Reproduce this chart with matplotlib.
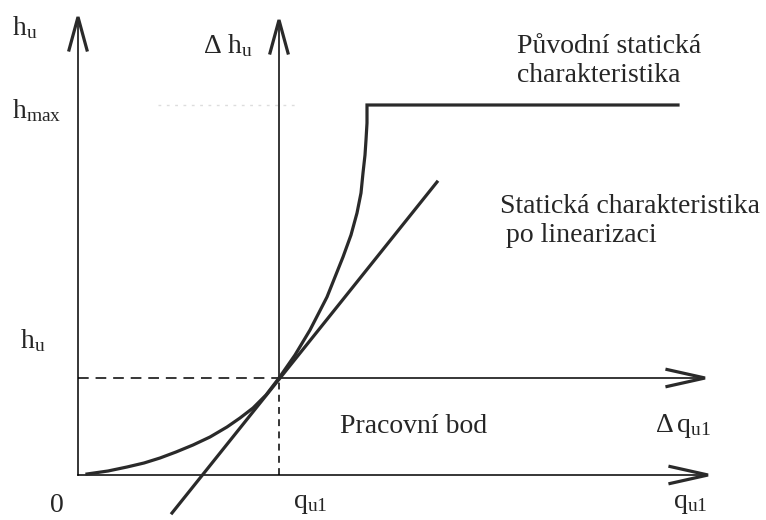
import numpy as np
import matplotlib.pyplot as plt

plt.rcParams['font.family'] = ['Liberation Serif', 'DejaVu Serif']
plt.rcParams['mathtext.fontset'] = 'custom'
plt.rcParams['mathtext.rm'] = 'Liberation Serif'
plt.rcParams['mathtext.it'] = 'Liberation Serif:italic'

# pracovni bod a nasyceni
q_wp = 2.01
h_wp = 0.97
h_max = 3.70
q_end = 6.00

# puvodni staticka charakteristika (odectene body)
curve_q = [0.09, 0.30, 0.49, 0.66, 0.82, 0.98, 1.15, 1.32, 1.49, 1.62, 1.75, 1.88, 2.01,
           2.17, 2.32, 2.49, 2.65, 2.73, 2.79, 2.83, 2.85, 2.87, 2.88, 2.89, 2.89]
curve_h = [0.01, 0.04, 0.08, 0.12, 0.17, 0.23, 0.30, 0.38, 0.48, 0.57, 0.67, 0.80, 0.97,
           1.20, 1.45, 1.78, 2.18, 2.40, 2.62, 2.82, 3.02, 3.20, 3.35, 3.52, 3.70]

# linearizovana charakteristika
tangent_q = [0.94, 3.59]
tangent_h = [-0.38, 2.93]

# delky os
h_axis_top = 4.58
dh_axis_top = 4.55
q_axis_end = 6.30
dq_axis_end = 6.27

ink = '#2a2a2a'
fig = plt.figure(figsize=(7.66, 5.20), dpi=100)
ax = fig.add_axes([0, 0, 1, 1])
ax.set_xlim(-0.78, 6.88)
ax.set_ylim(-0.45, 4.75)
ax.axis('off')


def arrow_up(x, y_top, hl=0.33, hw=0.09):
    ax.plot([x - hw, x, x + hw], [y_top - hl, y_top, y_top - hl], color=ink, lw=2.3,
            solid_joinstyle='miter')


def arrow_right(x_end, y, hl=0.38, hw=0.085):
    ax.plot([x_end - hl, x_end, x_end - hl], [y + hw, y, y - hw], color=ink, lw=2.3,
            solid_joinstyle='miter')


# osy
ax.plot([0, 0], [0, h_axis_top - 0.05], color='black', lw=1.1)
arrow_up(0, h_axis_top)
ax.plot([q_wp, q_wp], [h_wp, dh_axis_top - 0.05], color='black', lw=1.1)
arrow_up(q_wp, dh_axis_top)
ax.plot([0, q_axis_end - 0.05], [0, 0], color='black', lw=1.1)
arrow_right(q_axis_end, 0)
ax.plot([q_wp, dq_axis_end - 0.05], [h_wp, h_wp], color='black', lw=1.1)
arrow_right(dq_axis_end, h_wp)

# pomocne carkovane cary
ax.plot([0, q_wp], [h_wp, h_wp], color='black', lw=1.1, dashes=(7, 4.5))
ax.plot([q_wp, q_wp], [0, h_wp], color='black', lw=1.1, dashes=(4.5, 3.5))
ax.plot([0.8, 2.2], [h_max, h_max], color='#dddddd', lw=1.0, dashes=(2, 4))

# charakteristiky
ax.plot(curve_q + [q_end], curve_h + [h_max], color=ink, lw=2.3, solid_joinstyle='miter')
ax.plot(tangent_q, tangent_h, color=ink, lw=2.3)

fs = 20
tk = dict(color='#262626', fontsize=fs)
ax.text(-0.66, 4.40, r'$\mathrm{h_u}$', **tk)
ax.text(1.25, 4.22, r'$\Delta\ \mathrm{h_u}$', **tk)
ax.text(-0.66, 3.57, r'$\mathrm{h_{max}}$', **tk)
ax.text(-0.58, 1.27, r'$\mathrm{h_u}$', **tk)
ax.text(-0.28, -0.37, '0', **tk)
ax.text(2.15, -0.33, r'$\mathrm{q_{u1}}$', **tk)
ax.text(5.95, -0.33, r'$\mathrm{q_{u1}}$', **tk)
ax.text(5.77, 0.43, r'$\Delta\,\mathrm{q_{u1}}$', **tk)
ax.text(2.62, 0.42, 'Pracovní bod', **tk)
ax.text(4.39, 4.22, 'Původní statická', **tk)
ax.text(4.39, 3.93, 'charakteristika', **tk)
ax.text(4.22, 2.62, 'Statická charakteristika', **tk)
ax.text(4.28, 2.33, 'po linearizaci', **tk)

fig.savefig('out.png', dpi=100, facecolor='white')
